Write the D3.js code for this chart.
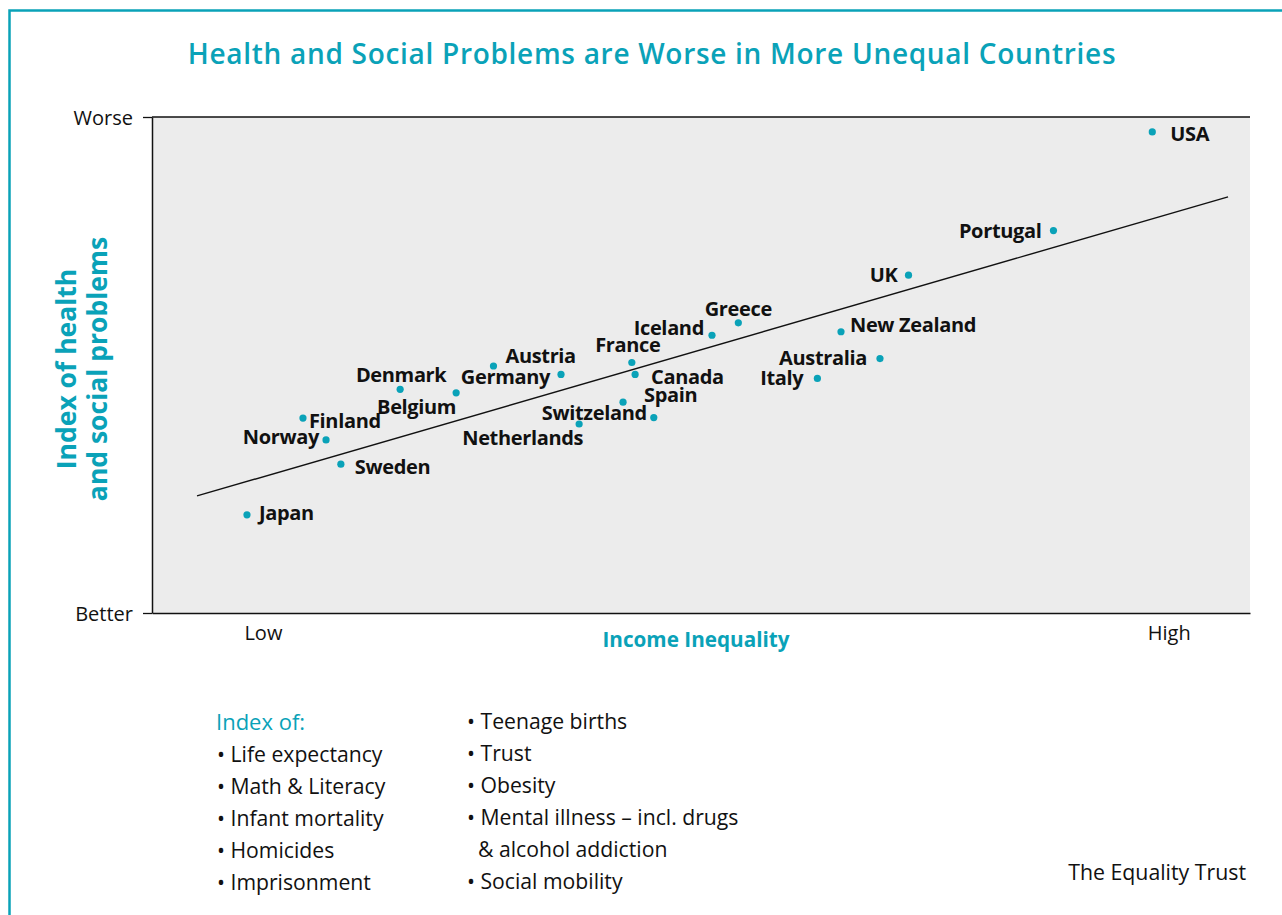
<!DOCTYPE html>
<html>
<head>
<meta charset="utf-8">
<script src="https://cdn.jsdelivr.net/npm/d3@7"></script>
<style>
  html, body { margin: 0; padding: 0; background: #fff; }
  svg { display: block; font-family: "Open Sans", sans-serif; }
</style>
</head>
<body>
<svg id="chart" width="1282" height="915"></svg>
<script>
// ---- data ----
const countries = ["USA","Portugal","UK","Greece","Iceland","New Zealand","Australia","Italy","France","Canada","Spain","Switzeland","Netherlands","Austria","Germany","Denmark","Belgium","Finland","Norway","Sweden","Japan"];
const inequality = [91.1, 82.1, 68.9, 53.4, 51.0, 62.75, 66.3, 60.6, 43.7, 44.0, 42.9, 45.7, 38.9, 31.1, 37.25, 22.6, 27.7, 13.75, 15.85, 17.2, 8.65];
const problems   = [97.0, 77.1, 68.1, 58.5, 56.0, 56.7, 51.3, 47.3, 50.5, 48.1, 42.5, 39.4, 38.1, 49.8, 48.1, 45.1, 44.4, 39.3, 34.9, 30.0, 19.8];
const trendX = [4.1, 98.0];
const trendY = [23.6, 83.9];
const xTickValues = [10.1, 92.6];
const xTickLabels = ["Low", "High"];
const yTickValues = [0, 100];
const yTickLabels = ["Better", "Worse"];
const legendCol1 = ["Life expectancy", "Math & Literacy", "Infant mortality", "Homicides", "Imprisonment"];
const legendCol2 = ["• Teenage births", "• Trust", "• Obesity", "• Mental illness – incl. drugs", "  & alcohol addiction", "• Social mobility"];

// ---- label layout (placement only) ----
const labelLayout = {
  "USA":         {a:"start",  dx: 18,  dy: 9},
  "Portugal":    {a:"end",    dx:-12,  dy: 7},
  "UK":          {a:"end",    dx:-11,  dy: 7},
  "Greece":      {a:"middle", dx: 0,   dy:-7},
  "Iceland":     {a:"end",    dx:-8,   dy: 0},
  "New Zealand": {a:"start",  dx: 9,   dy: 0},
  "Australia":   {a:"end",    dx:-13,  dy: 6},
  "Italy":       {a:"end",    dx:-14,  dy: 7},
  "France":      {a:"middle", dx:-4,   dy:-11},
  "Canada":      {a:"start",  dx: 16,  dy: 10},
  "Spain":       {a:"start",  dx: 21,  dy: 0},
  "Switzeland":  {a:"end",    dx:-7,   dy: 2},
  "Netherlands": {a:"end",    dx: 4,   dy: 21},
  "Austria":     {a:"start",  dx: 12,  dy:-3},
  "Germany":     {a:"end",    dx:-11,  dy: 10},
  "Denmark":     {a:"middle", dx: 1,   dy:-7},
  "Belgium":     {a:"end",    dx: 0,   dy: 21},
  "Finland":     {a:"start",  dx: 6,   dy: 10},
  "Norway":      {a:"end",    dx:-7,   dy: 4},
  "Sweden":      {a:"start",  dx: 14,  dy: 10},
  "Japan":       {a:"start",  dx: 12,  dy: 5}
};

const TEAL = "#0aa2b8";
const svg = d3.select("#chart");

// frame
svg.append("path")
  .attr("d", "M9.5,915 L9.5,10.5 L1282,10.5")
  .attr("fill", "none").attr("stroke", TEAL).attr("stroke-width", 2.5);

// title
svg.append("text")
  .attr("x", 652).attr("y", 64)
  .attr("text-anchor", "middle")
  .attr("fill", TEAL).attr("font-size", 28).attr("font-weight", 600)
  .attr("letter-spacing", "0.7px")
  .text("Health and Social Problems are Worse in More Unequal Countries");

const pLeft = 152, pRight = 1250, pTop = 117, pBottom = 613;
const x = d3.scaleLinear().domain([0, 100]).range([pLeft, pRight]);
const y = d3.scaleLinear().domain([0, 100]).range([pBottom, pTop]);

// plot background
svg.append("rect")
  .attr("x", pLeft).attr("y", pTop)
  .attr("width", pRight - pLeft).attr("height", pBottom - pTop)
  .attr("fill", "#ececec");

// top line
svg.append("line")
  .attr("x1", pLeft).attr("x2", pRight).attr("y1", pTop).attr("y2", pTop)
  .attr("stroke", "#111").attr("stroke-width", 1.5);

// y axis
const yAxis = svg.append("g")
  .attr("transform", `translate(${pLeft},0)`)
  .call(d3.axisLeft(y).tickValues(yTickValues)
        .tickFormat((d, i) => yTickLabels[i]).tickSize(9).tickSizeOuter(0).tickPadding(10));
yAxis.select(".domain").attr("stroke", "#111").attr("stroke-width", 1.5);
yAxis.selectAll(".tick line").attr("stroke", "#111").attr("stroke-width", 1.3);
yAxis.selectAll(".tick text")
  .attr("font-family", "Open Sans, sans-serif").attr("font-size", 20)
  .attr("fill", "#111").attr("dy", "0.35em");

// x axis
const xAxis = svg.append("g")
  .attr("transform", `translate(0,${pBottom})`)
  .call(d3.axisBottom(x).tickValues(xTickValues)
        .tickFormat((d, i) => xTickLabels[i]).tickSize(0).tickSizeOuter(0).tickPadding(13));
xAxis.select(".domain").attr("stroke", "#111").attr("stroke-width", 1.5);
xAxis.selectAll(".tick text")
  .attr("font-family", "Open Sans, sans-serif").attr("font-size", 20)
  .attr("fill", "#111");

// trend line
svg.append("line")
  .attr("x1", x(trendX[0])).attr("y1", y(trendY[0]))
  .attr("x2", x(trendX[1])).attr("y2", y(trendY[1]))
  .attr("stroke", "#111").attr("stroke-width", 1.4);

const pts = countries.map((c, i) => ({c, x: inequality[i], y: problems[i]}));

// dots
svg.append("g").selectAll("circle").data(pts).join("circle")
  .attr("cx", d => x(d.x)).attr("cy", d => y(d.y)).attr("r", 3.6)
  .attr("fill", TEAL);

// labels
svg.append("g").selectAll("text").data(pts).join("text")
  .attr("x", d => x(d.x) + labelLayout[d.c].dx)
  .attr("y", d => y(d.y) + labelLayout[d.c].dy)
  .attr("text-anchor", d => labelLayout[d.c].a)
  .attr("font-weight", 700).attr("font-size", 20)
  .attr("letter-spacing", "-0.35px")
  .attr("fill", "#111")
  .text(d => d.c);

// axis titles
svg.append("text")
  .attr("x", 696).attr("y", 646.5)
  .attr("text-anchor", "middle")
  .attr("fill", TEAL).attr("font-weight", 700).attr("font-size", 20.7)
  .text("Income Inequality");

const yTitle = svg.append("text")
  .attr("transform", "translate(0,369) rotate(-90)")
  .attr("text-anchor", "middle")
  .attr("fill", TEAL).attr("font-weight", 700).attr("font-size", 26.5);
yTitle.append("tspan").attr("x", 0).attr("y", 76).text("Index of health");
yTitle.append("tspan").attr("x", 0).attr("y", 107).text("and social problems");

// legend
svg.append("text")
  .attr("x", 216).attr("y", 729.5)
  .attr("fill", TEAL).attr("font-size", 22)
  .text("Index of:");

svg.append("g").selectAll("text").data(legendCol1).join("text")
  .attr("x", 217).attr("y", (d, i) => 761.5 + i * 32)
  .attr("fill", "#111").attr("font-size", 21.2)
  .text(d => "• " + d);

svg.append("g").selectAll("text").data(legendCol2).join("text")
  .attr("x", (d) => d.startsWith("•") ? 467 : 478)
  .attr("y", (d, i) => 729 + i * 32)
  .attr("fill", "#111").attr("font-size", 21.2)
  .text(d => d.trim());

// source
svg.append("text")
  .attr("x", 1246).attr("y", 880)
  .attr("text-anchor", "end")
  .attr("fill", "#111").attr("font-size", 21.3)
  .text("The Equality Trust");
</script>
</body>
</html>
